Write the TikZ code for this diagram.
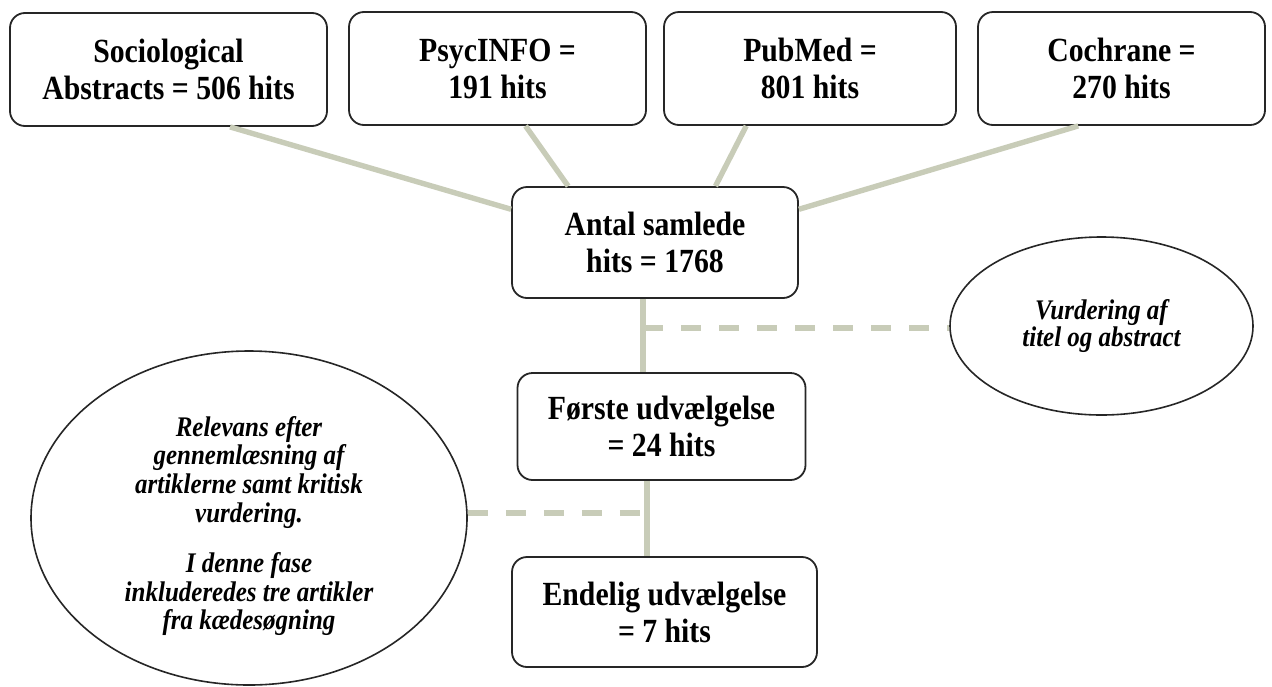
\documentclass[tikz,border=0pt]{standalone}
\usepackage{fontspec}
\setmainfont{Liberation Serif}[FakeStretch=0.88]
\usepackage{xcolor}
\usetikzlibrary{shapes.geometric}
\definecolor{lnk}{RGB}{200,204,184}
\tikzset{
  db/.style={rectangle, rounded corners=7.5pt, draw=black!85, line width=0.9pt, fill=white, align=center, inner sep=0pt, font=\bfseries\fontsize{16.9}{18.5}\selectfont},
  nte/.style={ellipse, draw=black!85, line width=0.8pt, fill=white, align=center, inner sep=0pt, font=\bfseries\itshape\fontsize{14.2}{14.4}\selectfont},
  ln/.style={draw=lnk, line width=2.7pt},
  dln/.style={ln, dash pattern=on 10pt off 9pt}
}
\begin{document}
\begin{tikzpicture}[x=0.5pt, y=-0.5pt]
  \useasboundingbox (0,0) rectangle (1272,686);
  \node[db, minimum width=158.5pt, minimum height=56.5pt] (soc) at (168.5,69.5) {Sociological\\Abstracts = 506 hits};
  \node[db, minimum width=148.5pt, minimum height=56.5pt] (psy) at (497.5,68.5) {PsycINFO =\\191 hits};
  \node[db, minimum width=146pt, minimum height=56.5pt] (pub) at (810,68.5) {PubMed =\\801 hits};
  \node[db, minimum width=143.5pt, minimum height=56.5pt] (coc) at (1121.5,68.5) {Cochrane =\\270 hits};
  \node[db, minimum width=143pt, minimum height=55.5pt] (ant) at (655,242.5) {Antal samlede\\hits = 1768};
  \node[db, minimum width=144pt, minimum height=53.5pt] (fst) at (661.5,426.5) {Første udvælgelse\\= 24 hits};
  \node[db, minimum width=152.5pt, minimum height=55pt] (end) at (664.5,612) {Endelig udvælgelse\\= 7 hits};
  \node[nte, minimum width=151.5pt, minimum height=89pt, font=\bfseries\itshape\fontsize{14.2}{11.2}\selectfont] (vur) at (1101.5,326) {Vurdering af\\titel og abstract};
  \node[nte, minimum width=218pt, minimum height=167pt] (rel) at (249,518) {\rule{0pt}{18pt}Relevans efter\\gennemlæsning af\\artiklerne samt kritisk\\vurdering.\\[10.5pt]I denne fase\\inkluderedes tre artikler\\fra kædesøgning};
  \coordinate (sp1) at (643,328);
  \coordinate (sp2) at (647,513);
  \draw[ln] (soc.-43) -- (ant.167.2);
  \draw[ln] (psy.-64.8) -- (ant.147.2);
  \draw[ln] (pub.-138.6) -- (ant.43.2);
  \draw[ln] (coc.-127.1) -- (ant.13.4);
  \draw[ln] (ant.south -| sp1) -- (fst.north -| sp1);
  \draw[ln] (fst.south -| sp2) -- (end.north -| sp2);
  \draw[dln] (sp1) -- (vur.west |- sp1);
  \draw[dln] (rel.east |- sp2) -- (sp2);
\end{tikzpicture}
\end{document}
